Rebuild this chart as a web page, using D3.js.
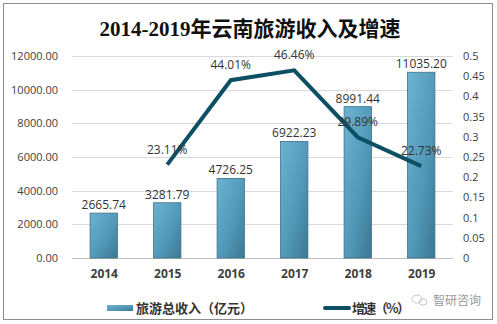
<!DOCTYPE html>
<html><head><meta charset="utf-8">
<script src="https://cdn.jsdelivr.net/npm/d3@7/dist/d3.min.js"></script>
<style>body{margin:0;background:#fff;}svg{display:block;}</style>
</head><body>
<script>
const years = ["2014","2015","2016","2017","2018","2019"];
const income = [2665.74, 3281.79, 4726.25, 6922.23, 8991.44, 11035.20];
const growthYears = ["2015","2016","2017","2018","2019"];
const growth = [0.2311, 0.4401, 0.4646, 0.2989, 0.2273];
const leftTicks = [0,2000,4000,6000,8000,10000,12000];
const rightTicks = [0,0.05,0.1,0.15,0.2,0.25,0.3,0.35,0.4,0.45,0.5];

const W=497,H=324;
const svg=d3.select("body").append("svg").attr("width",W).attr("height",H);
const defs=svg.append("defs");
const g=defs.append("linearGradient").attr("id","barg").attr("x1","0").attr("y1","0").attr("x2","1").attr("y2","1");
g.append("stop").attr("offset","0%").attr("stop-color","#6cb3d2");
g.append("stop").attr("offset","55%").attr("stop-color","#5299b9");
g.append("stop").attr("offset","100%").attr("stop-color","#3c7892");

svg.append("rect").attr("x",3.5).attr("y",3.5).attr("width",489).attr("height",316).attr("fill","#fff").attr("stroke","#8c8c8c").attr("stroke-width",1);

const x=d3.scaleBand().domain(years).range([72,453]).paddingInner(0.57).paddingOuter(0.285);
const xc=d3.scalePoint().domain(years).range([72,453]).padding(0.5);
const yL=d3.scaleLinear().domain([0,12000]).range([258,56]);
const yR=d3.scaleLinear().domain([0,0.5]).range([258,56]);

svg.append("text").attr("x",250).attr("y",36).attr("text-anchor","middle")
 .attr("font-family","'Liberation Serif','Noto Sans CJK SC',serif").attr("font-weight","bold")
 .attr("font-size",21).attr("fill","#111").text("2014-2019年云南旅游收入及增速");

// grid
svg.append("g").selectAll("line").data(leftTicks).join("line")
 .attr("x1",72).attr("x2",453).attr("y1",d=>Math.round(yL(d))+0.5).attr("y2",d=>Math.round(yL(d))+0.5)
 .attr("stroke",d=>d===0?"#bfbfbf":"#d9d9d9").attr("stroke-width",1);

const axL=svg.append("g").attr("transform","translate(72,0)").call(d3.axisLeft(yL).tickValues(leftTicks).tickFormat(d=>d.toFixed(2)).tickSize(0).tickPadding(14));
axL.select(".domain").remove();
axL.selectAll("text").attr("font-family","'Open Sans',sans-serif").attr("font-size",11).attr("fill","#404040");

const axR=svg.append("g").attr("transform","translate(453,0)").call(d3.axisRight(yR).tickValues(rightTicks).tickFormat(d=>String(+d.toFixed(2))).tickSize(0).tickPadding(10));
axR.select(".domain").remove();
axR.selectAll("text").attr("font-family","'Open Sans',sans-serif").attr("font-size",11).attr("fill","#404040");

const axX=svg.append("g").attr("transform","translate(0,258)").call(d3.axisBottom(xc).tickSize(0).tickPadding(11));
axX.select(".domain").remove();
axX.selectAll("text").attr("font-family","'Open Sans',sans-serif").attr("font-size",12).attr("font-weight","bold").attr("fill","#404040");

// bars
svg.append("g").selectAll("rect").data(income).join("rect")
 .attr("x",(d,i)=>x(years[i])).attr("width",x.bandwidth())
 .attr("y",d=>yL(d)).attr("height",d=>258-yL(d))
 .attr("fill","url(#barg)").attr("stroke","#3d6f85").attr("stroke-width",0.8);

svg.append("g").selectAll("text").data(income).join("text")
 .attr("x",(d,i)=>xc(years[i])).attr("y",d=>yL(d)-4).attr("text-anchor","middle")
 .attr("font-family","'Open Sans',sans-serif").attr("font-size",12).attr("fill","#333").text(d=>d.toFixed(2));

// line
const line=d3.line().x((d,i)=>xc(growthYears[i])).y(d=>yR(d));
svg.append("path").attr("d",line(growth)).attr("fill","none").attr("stroke","#0d4f64").attr("stroke-width",4).attr("stroke-linejoin","miter");

svg.append("g").selectAll("text").data(growth).join("text")
 .attr("x",(d,i)=>xc(growthYears[i])).attr("y",d=>yR(d)-11).attr("text-anchor","middle")
 .attr("font-family","'Open Sans',sans-serif").attr("font-size",12).attr("fill","#333").text(d=>(d*100).toFixed(2)+"%");

// legend
svg.append("rect").attr("x",107).attr("y",305).attr("width",26).attr("height",6).attr("fill","url(#barg)");
svg.append("text").attr("x",136).attr("y",313).attr("font-family","'Noto Sans CJK SC',sans-serif").attr("font-weight","bold").attr("font-size",13).attr("fill","#333").text("旅游总收入（亿元）");
svg.append("line").attr("x1",325).attr("x2",349).attr("y1",308).attr("y2",308).attr("stroke","#0d4f64").attr("stroke-width",4).attr("stroke-linecap","round");
svg.append("text").attr("x",352).attr("y",313).attr("font-family","'Noto Sans CJK SC',sans-serif").attr("font-weight","bold").attr("font-size",13).attr("fill","#333").attr("textLength",58).text("增速（%）");

// watermark
const wm=svg.append("g").attr("fill","none").attr("stroke","#c8c8c8").attr("stroke-width",1);
wm.append("ellipse").attr("cx",417).attr("cy",299).attr("rx",5).attr("ry",4);
wm.append("ellipse").attr("cx",423).attr("cy",302).attr("rx",4).attr("ry",3.2);
svg.append("text").attr("x",433).attr("y",305).attr("font-family","'Noto Sans CJK SC',sans-serif").attr("font-size",12).attr("fill","#9a9a9a").text("智研咨询");
</script>
</body></html>
